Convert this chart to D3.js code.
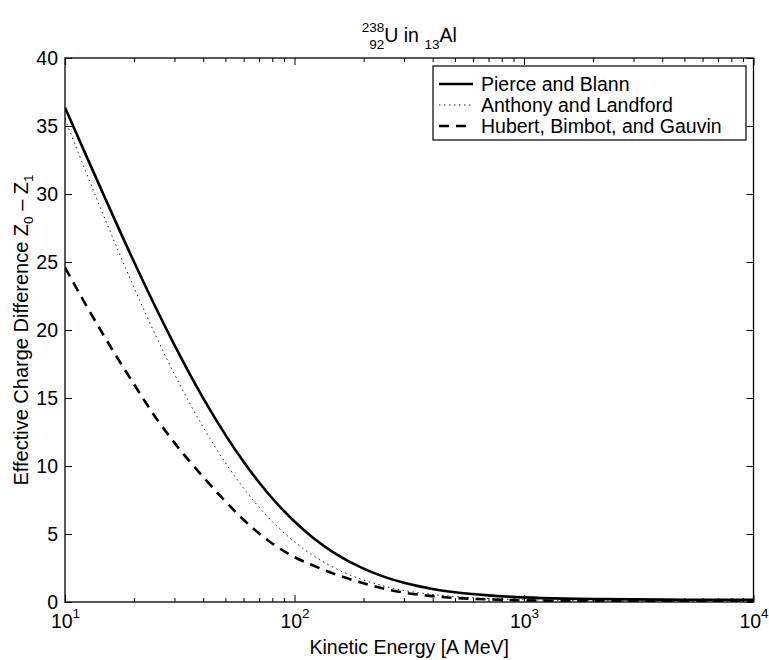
<!DOCTYPE html>
<html>
<head>
<meta charset="utf-8">
<script src="https://cdn.jsdelivr.net/npm/d3@7"></script>
<style>
  body { margin: 0; background: #fff; }
  svg { display: block; font-family: "Liberation Sans", Arial, sans-serif; }
</style>
</head>
<body>
<svg id="chart" width="769" height="660"></svg>
<script>
//Chart data (kinetic energy in A MeV, effective charge difference Z0 - Z1)
const energy = [10,12,15,20,25,30,40,50,60,70,80,100,120,150,200,250,300,400,500,700,1000,1500,2000,3000,5000,10000];
const pierceBlann = [36.35,33.32,29.64,25.00,21.56,18.89,14.99,12.29,10.31,8.81,7.63,5.92,4.75,3.58,2.45,1.81,1.41,0.96,0.72,0.49,0.34,0.25,0.22,0.19,0.17,0.16];
const anthonyLandford = [35.51,32.13,28.09,23.11,19.50,16.75,12.85,10.23,8.37,6.98,5.92,4.42,3.44,2.49,1.61,1.14,0.85,0.55,0.40,0.25,0.17,0.12,0.10,0.08,0.07,0.07];
const hubertBimbotGauvin = [24.6,22.2,19.4,16.0,13.5,11.7,9.2,7.4,6.05,5.05,4.3,3.3,2.7,2.05,1.38,0.95,0.69,0.43,0.30,0.19,0.12,0.09,0.07,0.05,0.04,0.03];

const seriesNames = ["Pierce and Blann","Anthony and Landford","Hubert, Bimbot, and Gauvin"];
const xMajorTicks = [10,100,1000,10000];
const xExponents = ["1","2","3","4"];
const yTicks = [0,5,10,15,20,25,30,35,40];

//Plot area
const pLeft = 65, pRight = 753.5, pTop = 58, pBottom = 602;
const svg = d3.select("#chart");

const x = d3.scaleLog().domain([10,10000]).range([pLeft,pRight]);
const y = d3.scaleLinear().domain([0,40]).range([pBottom,pTop]);

//minor ticks 2..9 in every decade
const xMinorTicks = [];
xMajorTicks.slice(0,3).forEach(d=>{
    for(let k=2;k<10;k++) xMinorTicks.push(d*k);
});

svg.append("clipPath").attr("id","clip")
    .append("rect")
    .attr("x",pLeft).attr("y",pTop)
    .attr("width",pRight-pLeft).attr("height",pBottom-pTop);

//Lines
const styles = [
    {data:pierceBlann, width:2.6, dash:null, color:"#000"},
    {data:anthonyLandford, width:1, dash:"1.5,3.5", color:"#222"},
    {data:hubertBimbotGauvin, width:2.6, dash:"10,7", color:"#000"}
];

const line = d3.line()
    .x(d=>x(d[0]))
    .y(d=>y(d[1]))
    .curve(d3.curveMonotoneX);

const lines = svg.append("g").attr("clip-path","url(#clip)");
styles.forEach(s=>{
    lines.append("path")
        .datum(energy.map((e,i)=>[e,s.data[i]]))
        .attr("d",line)
        .attr("fill","none")
        .attr("stroke",s.color)
        .attr("stroke-width",s.width)
        .attr("stroke-dasharray",s.dash);
});

//Axes with inward ticks on every side
const fontSize = 19.5;
const smallSize = 13.5;
function styleAxis(g){
    g.select(".domain").remove();
    g.selectAll(".tick line").attr("stroke","#000").attr("stroke-width",1);
}

svg.append("g").attr("transform",`translate(0,${pBottom})`)
    .call(d3.axisBottom(x).tickValues(xMinorTicks).tickSize(-4).tickFormat(""))
    .call(styleAxis);
svg.append("g").attr("transform",`translate(0,${pTop})`)
    .call(d3.axisTop(x).tickValues(xMinorTicks).tickSize(-4).tickFormat(""))
    .call(styleAxis);
svg.append("g").attr("transform",`translate(0,${pTop})`)
    .call(d3.axisTop(x).tickValues(xMajorTicks).tickSize(-7).tickFormat(""))
    .call(styleAxis);

const xAxis = svg.append("g").attr("transform",`translate(0,${pBottom})`)
    .call(d3.axisBottom(x).tickValues(xMajorTicks).tickSize(-7).tickFormat(""))
    .call(styleAxis);
xAxis.selectAll(".tick text").each(function(d,i){
    const t = d3.select(this)
        .attr("y",26).attr("dy",null)
        .attr("fill","#000")
        .attr("font-size",fontSize)
        .attr("text-anchor","middle");
    t.append("tspan").text("10");
    t.append("tspan").attr("font-size",smallSize).attr("dy",-10).text(xExponents[i]);
});
xAxis.attr("font-family",null).attr("font-size",null);

const yAxis = svg.append("g").attr("transform",`translate(${pLeft},0)`)
    .call(d3.axisLeft(y).tickValues(yTicks).tickSize(-7).tickPadding(7))
    .call(styleAxis);
yAxis.attr("font-family",null).attr("font-size",fontSize);
yAxis.selectAll(".tick text").attr("fill","#000");

svg.append("g").attr("transform",`translate(${pRight},0)`)
    .call(d3.axisRight(y).tickValues(yTicks).tickSize(-7).tickFormat(""))
    .call(styleAxis);

//Box
svg.append("rect")
    .attr("x",pLeft).attr("y",pTop)
    .attr("width",pRight-pLeft).attr("height",pBottom-pTop)
    .attr("fill","none").attr("stroke","#000").attr("stroke-width",1.3);

//Axis titles
svg.append("text")
    .attr("x",(pLeft+pRight)/2).attr("y",654)
    .attr("text-anchor","middle")
    .attr("font-size",fontSize)
    .text("Kinetic Energy [A MeV]");

const yLab = svg.append("text")
    .attr("transform",`translate(28,${(pTop+pBottom)/2}) rotate(-90)`)
    .attr("text-anchor","middle")
    .attr("font-size",20);
yLab.append("tspan").text("Effective Charge Difference Z");
yLab.append("tspan").attr("font-size",smallSize).attr("dy",5).text("0");
yLab.append("tspan").attr("dy",-5).text(" \u2013 Z");
yLab.append("tspan").attr("font-size",smallSize).attr("dy",5).text("1");

//Title: 238/92 U in 13 Al
const titleG = svg.append("g");
const base = 42;
const tSup = titleG.append("text").attr("font-size",smallSize).attr("y",base-10).text("238");
const tSub = titleG.append("text").attr("font-size",smallSize).attr("y",base+7).text("92");
const tMid = titleG.append("text").attr("font-size",fontSize).attr("y",base).text("U in\u00A0");
const tSub2 = titleG.append("text").attr("font-size",smallSize).attr("y",base+7).text("13");
const tEnd = titleG.append("text").attr("font-size",fontSize).attr("y",base).text("Al");
const wSup = tSup.node().getComputedTextLength();
const wSub = tSub.node().getComputedTextLength();
const wMid = tMid.node().getComputedTextLength();
const wSub2 = tSub2.node().getComputedTextLength();
const wEnd = tEnd.node().getComputedTextLength();
let tx = (pLeft+pRight)/2 - (wSup+wMid+wSub2+wEnd)/2;
tSup.attr("x",tx);
tSub.attr("x",tx+wSup-wSub);
tMid.attr("x",tx+wSup);
tSub2.attr("x",tx+wSup+wMid);
tEnd.attr("x",tx+wSup+wMid+wSub2);

//Legend
const legX = 433, legY = 66, legW = 313, legH = 74;
svg.append("rect")
    .attr("x",legX).attr("y",legY)
    .attr("width",legW).attr("height",legH)
    .attr("fill","#fff").attr("stroke","#000").attr("stroke-width",1.2);

const legRows = [84,105,126];
styles.forEach((s,i)=>{
    svg.append("line")
        .attr("x1",legX+6).attr("x2",legX+40)
        .attr("y1",legRows[i]).attr("y2",legRows[i])
        .attr("stroke",s.color)
        .attr("stroke-width",s.width)
        .attr("stroke-dasharray",s.dash);
    svg.append("text")
        .attr("x",legX+48).attr("y",legRows[i]).attr("dy","0.35em")
        .attr("font-size",fontSize)
        .text(seriesNames[i]);
});
</script>
</body>
</html>
